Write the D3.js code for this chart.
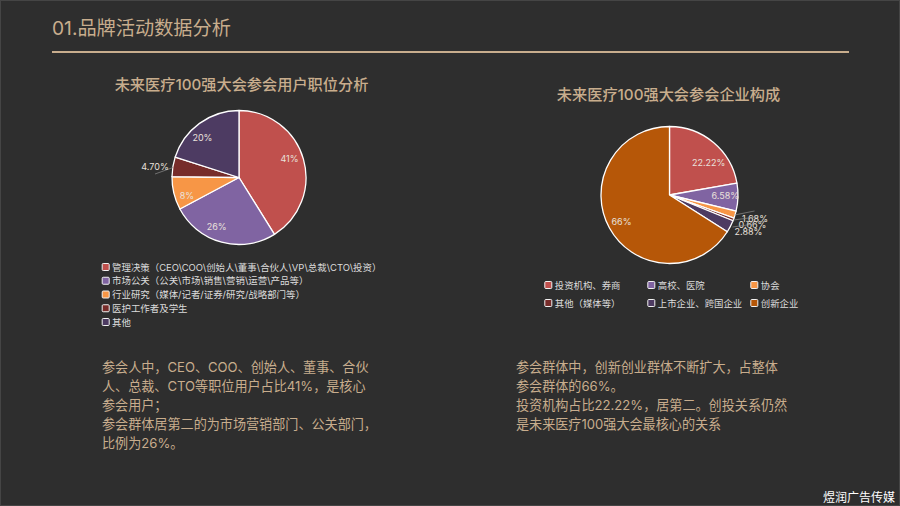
<!DOCTYPE html>
<html><head><meta charset="utf-8">
<script src="https://cdnjs.cloudflare.com/ajax/libs/d3/7.8.5/d3.min.js"></script>
<style>
html,body{margin:0;padding:0;background:#2e2e2e;overflow:hidden}
svg{display:block}
text{font-family:Inter,"Noto Sans CJK SC","Noto Sans",sans-serif}
</style></head><body>
<svg id="c" width="900" height="506"></svg>
<script>
const pageTitle = "01.品牌活动数据分析";
const leftTitle = "未来医疗100强大会参会用户职位分析";
const leftCategories = ["管理决策（CEO\\COO\\创始人\\董事\\合伙人\\VP\\总裁\\CTO\\投资）","市场公关（公关\\市场\\销售\\营销\\运营\\产品等）","行业研究（媒体/记者/证券/研究/战略部门等）","医护工作者及学生","其他"];
const leftValues = [41,26,8,4.7,20];
const leftLabels = ["41%","26%","8%","4.70%","20%"];
const leftColors = ["#c0504d","#8064a2","#f79646","#772c2a","#4d3b62"];
const rightTitle = "未来医疗100强大会参会企业构成";
const rightCategories = ["投资机构、券商","高校、医院","协会","其他（媒体等）","上市企业、跨国企业","创新企业"];
const rightValues = [22.22,6.58,1.68,0.66,2.88,66];
const rightLabels = ["22.22%","6.58%","1.68%","0.66%","2.88%","66%"];
const rightColors = ["#c0504d","#8064a2","#f79646","#772c2a","#4d3b62","#b65708"];
const leftNotes = ["参会人中，CEO、COO、创始人、董事、合伙","人、总裁、CTO等职位用户占比41%，是核心","参会用户；","参会群体居第二的为市场营销部门、公关部门，","比例为26%。"];
const rightNotes = ["参会群体中，创新创业群体不断扩大，占整体","参会群体的66%。","投资机构占比22.22%，居第二。创投关系仍然","是未来医疗100强大会最核心的关系"];
const footer = "煜润广告传媒";

const TAN = "#c8ad8d", LABEL = "#e9e1dc";
const svg = d3.select("#c");
svg.append("rect").attr("width",900).attr("height",506).attr("fill","#2e2e2e");
svg.append("rect").attr("x",.5).attr("y",.5).attr("width",899).attr("height",505).attr("fill","none").attr("stroke","#454545");

svg.append("text").attr("x",52).attr("y",35).attr("font-size",19.2).attr("fill",TAN).text(pageTitle);
svg.append("line").attr("x1",52).attr("x2",849).attr("y1",52).attr("y2",52).attr("stroke",TAN).attr("stroke-width",2);

function pie(cfg){
  const g = svg.append("g").attr("transform",`translate(${cfg.cx},${cfg.cy})`);
  const arcs = d3.pie().value(d=>d).sort(null)(cfg.values);
  const arc = d3.arc().innerRadius(0).outerRadius(cfg.r);
  const labelArc = d3.arc().innerRadius(cfg.r*.8).outerRadius(cfg.r*.8);
  g.selectAll("path").data(arcs).join("path").attr("d",arc)
    .attr("fill",(d,i)=>cfg.colors[i]).attr("stroke","#fff").attr("stroke-width",1.3).attr("stroke-linejoin","round");
  arcs.forEach((d,i)=>{
    const o = cfg.outside[i];
    if(o){
      g.append("line").attr("x1",o.lx1).attr("y1",o.ly1).attr("x2",o.lx2).attr("y2",o.ly2).attr("stroke","#8d8d8d").attr("stroke-width",.7);
      g.append("text").attr("x",o.tx).attr("y",o.ty).attr("text-anchor","middle").attr("dominant-baseline","central")
        .attr("font-size",9).attr("fill",LABEL).text(cfg.labels[i]);
    } else {
      const [x,y] = labelArc.centroid(d);
      const n = cfg.nudge[i]||[0,0];
      g.append("text").attr("x",x+n[0]).attr("y",y+n[1]).attr("text-anchor","middle").attr("dominant-baseline","central")
        .attr("font-size",9).attr("fill",LABEL).text(cfg.labels[i]);
    }
  });
}
function swatch(x,y,c){
  svg.append("rect").attr("x",x-3.5).attr("y",y-3.5).attr("width",7).attr("height",7).attr("rx",1)
    .attr("fill",c).attr("stroke","#f2f2f2").attr("stroke-width",1);
}

svg.append("text").attr("x",241.5).attr("y",90).attr("text-anchor","middle").attr("font-size",15.2).attr("font-weight",500).attr("fill",TAN).text(leftTitle);
pie({cx:239,cy:177.5,r:67,values:leftValues,labels:leftLabels,colors:leftColors,
  nudge:{0:[-1,-4.5],1:[-8.5,-2.5],2:[0,5],4:[-5,3]},
  outside:{3:{tx:-84,ty:-11,lx1:-84,ly1:-3.5,lx2:-66,ly2:-10}}});
const ly = d3.scalePoint().domain(leftCategories).range([267,322]);
leftCategories.forEach((c,i)=>{
  swatch(105.7,ly(c),leftColors[i]);
  svg.append("text").attr("x",112).attr("y",ly(c)).attr("dominant-baseline","central").attr("font-size",9.45).attr("fill","#dcdcdc").text(c);
});

svg.append("text").attr("x",668.5).attr("y",100).attr("text-anchor","middle").attr("font-size",15.2).attr("font-weight",500).attr("fill",TAN).text(rightTitle);
pie({cx:669.5,cy:195,r:68.5,values:rightValues,labels:rightLabels,colors:rightColors,
  nudge:{0:[4,9],1:[1,-1]},
  outside:{2:{tx:85.5,ty:23,lx1:65,ly1:20,lx2:85,ly2:16},
           3:{tx:83,ty:29,lx1:64,ly1:25,lx2:87,ly2:22},
           4:{tx:79,ty:36.5,lx1:63,ly1:32,lx2:85,ly2:29}}});
const rx = d3.scalePoint().domain([0,1,2]).range([548.3,754.3]);
const ry = d3.scalePoint().domain([0,1]).range([285,303]);
rightCategories.forEach((c,i)=>{
  const x = rx(i%3), y = ry(Math.floor(i/3));
  swatch(x,y,rightColors[i]);
  svg.append("text").attr("x",x+6.5).attr("y",y).attr("dominant-baseline","central").attr("font-size",9.4).attr("fill","#dcdcdc").text(c);
});

function notes(lines,x){
  svg.append("g").selectAll("text").data(lines).join("text")
    .attr("x",x).attr("y",(d,i)=>367+i*19).attr("dominant-baseline","central")
    .attr("font-size",13.1).attr("fill",TAN).text(d=>d);
}
notes(leftNotes,102);
notes(rightNotes,516);
svg.append("text").attr("x",895).attr("y",497).attr("text-anchor","end").attr("dominant-baseline","central").attr("font-size",12).attr("fill","#fff").text(footer);
</script>
</body></html>
